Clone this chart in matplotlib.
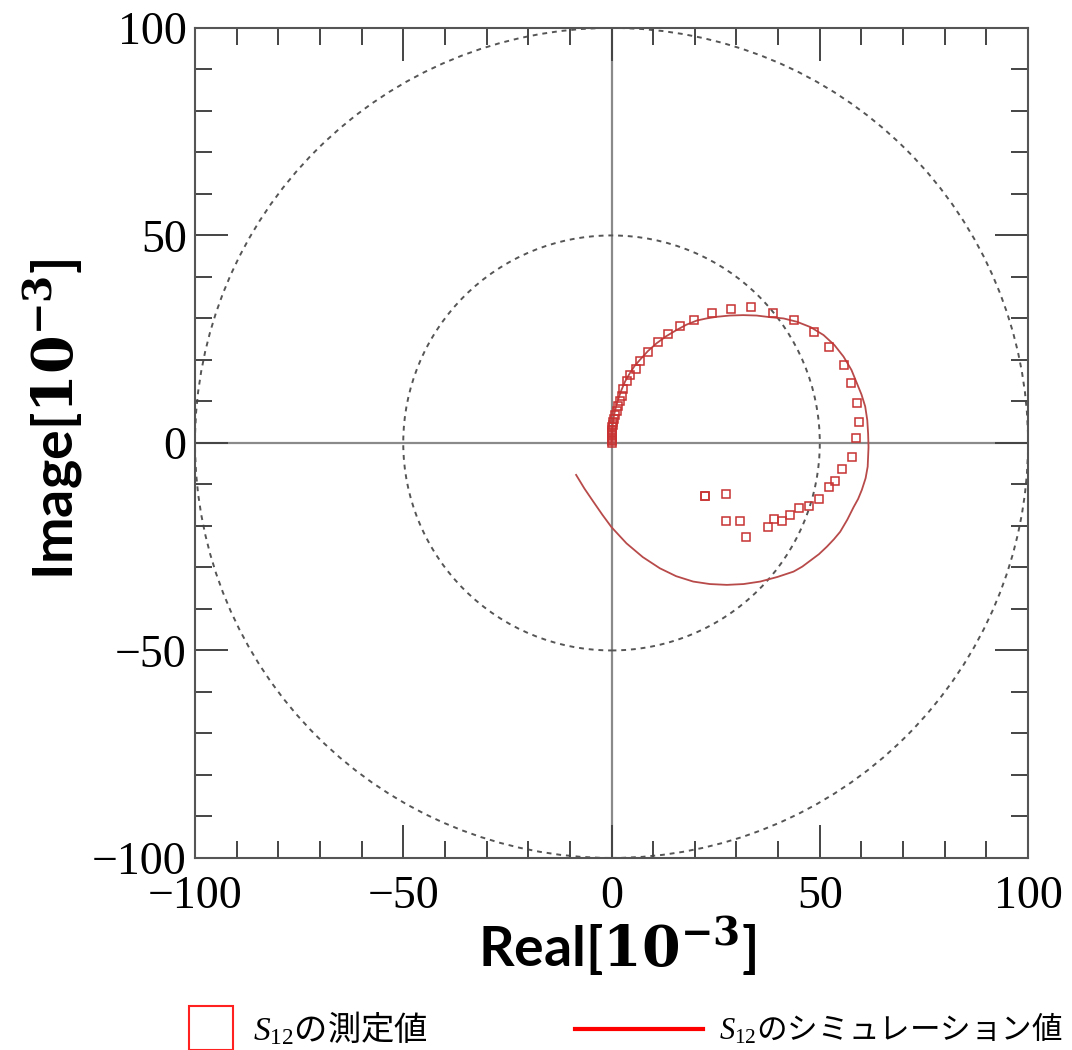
import matplotlib
matplotlib.use("Agg")
import matplotlib.pyplot as plt
from matplotlib.lines import Line2D
from matplotlib.patches import Circle
from matplotlib.ticker import MultipleLocator

meas_re = [0.0, 0.0, 0.05, 0.05, 0.1, 0.1, 0.15, 0.2, 0.2, 0.3, 0.4, 0.6, 0.9,
           1.2, 1.6, 2.0, 2.4, 2.7, 3.6, 4.4, 5.9, 6.8, 8.8, 11.1, 13.5, 16.4,
           19.8, 24.1, 28.6, 33.4, 38.7, 43.7, 48.5, 52.3, 55.8, 57.5, 58.9,
           59.3, 58.6, 57.7, 55.4, 53.7, 52.1, 49.7, 47.4, 44.9, 42.9, 40.9,
           39.1, 37.6, 32.2, 30.9, 27.5, 27.5, 22.4, 22.4]
meas_im = [0.0, 0.4, 0.8, 1.2, 1.7, 2.2, 2.7, 3.2, 3.8, 4.4, 5.0, 5.8, 6.8,
           7.8, 8.8, 10.0, 11.4, 12.9, 15.0, 16.4, 17.8, 19.8, 21.8, 24.3,
           26.2, 28.2, 29.6, 31.4, 32.2, 32.7, 31.4, 29.6, 26.8, 23.2, 18.8,
           14.5, 9.7, 5.0, 1.1, -3.3, -6.3, -9.1, -10.5, -13.5, -15.3, -15.7,
           -17.3, -18.8, -18.3, -20.3, -22.6, -18.9, -18.9, -12.4, -12.9, -12.7]

# S12 simulation curve
sim_re = [-8.5, -6.5, -4.4, -2.2, 0.0, 3.6, 7.5, 11.6, 15.5, 19.6, 23.6, 27.7,
          31.7, 35.7, 39.8, 43.7, 45.8, 47.8, 49.8, 51.7, 53.4, 54.9, 56.6,
          58.1, 59.2, 60.1, 61.0, 61.5, 61.7, 61.6, 61.4, 60.9, 60.0, 58.9,
          57.6, 55.7, 53.5, 50.9, 47.8, 44.5, 41.3, 38.1, 34.8, 31.6, 28.4,
          25.3, 22.8, 20.5, 18.0, 15.6, 13.1, 10.8, 8.7, 6.8, 5.5, 4.4, 3.3,
          2.4, 1.7, 1.1, 0.6, 0.3, 0.1, 0.0]
sim_im = [-7.7, -11.0, -14.1, -17.3, -20.3, -24.2, -27.5, -30.2, -32.1, -33.4,
          -34.0, -34.2, -34.0, -33.4, -32.3, -31.0, -29.8, -28.3, -26.8,
          -25.0, -23.2, -21.4, -18.5, -15.5, -13.5, -11.3, -8.5, -5.7, -1.0,
          2.3, 5.5, 8.8, 11.7, 14.4, 17.6, 20.8, 23.6, 26.0, 27.9, 29.2, 30.0,
          30.3, 30.7, 30.8, 30.7, 30.4, 30.0, 29.5, 28.5, 27.2, 25.7, 24.0,
          22.1, 20.0, 18.5, 16.8, 14.9, 12.8, 10.8, 8.8, 6.7, 4.7, 2.4, 0.0]

ref_radii = [50, 100]
label_meas = r"$S_{12}$の測定値"
label_sim = r"$S_{12}$のシミュレーション値"

plt.rcParams["font.family"] = "Liberation Serif"
plt.rcParams["mathtext.fontset"] = "custom"
plt.rcParams["mathtext.rm"] = "Liberation Serif"
plt.rcParams["mathtext.it"] = "Liberation Serif:italic"
plt.rcParams["mathtext.bf"] = "DejaVu Serif:bold"

fig = plt.figure(figsize=(10.72, 10.5), dpi=100)
ax = fig.add_axes([0.1819, 0.1829, 0.7771, 0.7905])

# axes cross and reference circles
ax.axhline(0, color="#8a8a8a", lw=1.6, zorder=1)
ax.axvline(0, color="#8a8a8a", lw=1.6, zorder=1)
for r in ref_radii:
    ax.add_patch(Circle((0, 0), r, fill=False, ls=(0, (2.5, 2.5)),
                        lw=1.4, ec="#555555", zorder=1))

ax.plot(sim_re, sim_im, color="#b84a4a", lw=1.3, zorder=2)
ax.plot(meas_re, meas_im, ls="none", marker="s", ms=5.5, mfc="none",
        mec="#c83232", mew=1.1, zorder=3)

ax.set_xlim(-100, 100)
ax.set_ylim(-100, 100)
for axis in (ax.xaxis, ax.yaxis):
    axis.set_major_locator(MultipleLocator(50))
    axis.set_minor_locator(MultipleLocator(10))
ax.tick_params(which="both", direction="in", top=True, right=True,
               color="#444444", width=1.4, labelsize=33, pad=6)
ax.tick_params(axis="x", which="both", pad=12.5)
ax.tick_params(which="major", length=24)
ax.tick_params(which="minor", length=12)
for s in ax.spines.values():
    s.set_color("#555555")
    s.set_linewidth(1.5)

ax.set_xlabel("Real[" + r"$\mathbf{10^{-3}}$" + "]", fontfamily="Lato",
              fontweight="bold", fontsize=40)
ax.set_ylabel("Image[" + r"$\mathbf{10^{-3}}$" + "]", fontfamily="Lato",
              fontweight="bold", fontsize=40)
ax.xaxis.set_label_coords(0.507, -0.068)
ax.yaxis.set_label_coords(-0.132, 0.528)

# legend below the plot
h_meas = Line2D([], [], ls="none", marker="s", ms=31, mfc="none",
                mec="#ff2020", mew=1.5)
h_sim = Line2D([], [], color="#ff0000", lw=3)
cjk = ["Noto Sans CJK JP", "DejaVu Sans"]
fig.legend(handles=[h_meas], labels=[label_meas], loc="center left",
           bbox_to_anchor=(0.1754, 0.020), frameon=False,
           prop={"family": cjk, "size": 24},
           handlelength=1.4, handletextpad=0.55, borderpad=0, borderaxespad=0)
fig.legend(handles=[h_sim], labels=[label_sim], loc="center left",
           bbox_to_anchor=(0.5364, 0.020), frameon=False,
           prop={"family": cjk, "size": 22},
           handlelength=4.2, handletextpad=0.5, borderpad=0, borderaxespad=0)

fig.savefig("out.png", dpi=100)
